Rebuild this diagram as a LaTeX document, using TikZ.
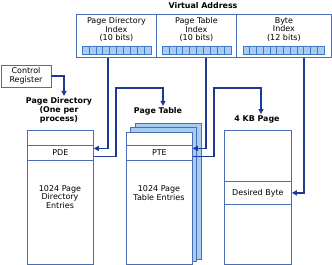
\documentclass[tikz,border=0pt]{standalone}
\usepackage{fontspec}
\setmainfont{DejaVu Sans}
\usetikzlibrary{arrows.meta, positioning, calc}
\definecolor{boxblue}{HTML}{4A6DB8}
\definecolor{arrblue}{HTML}{1C3A94}
\definecolor{cellfill}{HTML}{A9CDF2}
\definecolor{cellline}{HTML}{3F78C8}
\definecolor{sheetfill}{HTML}{A6CCF2}

\begin{document}
\begin{tikzpicture}[x=1pt,y=-1pt,
  fld/.style={rectangle,draw=boxblue,line width=0.8pt,minimum height=43pt,inner sep=0pt,anchor=north west},
  tbl/.style={rectangle,draw=boxblue,line width=0.8pt,fill=white,inner sep=0pt,anchor=north west,align=center,font=\fontsize{8}{8.8}\selectfont},
  txt/.style={align=center,inner sep=1pt,font=\fontsize{8}{8.8}\selectfont},
  ttl/.style={align=center,inner sep=1pt,font=\bfseries\fontsize{7.9}{9}\selectfont},
  cell/.style={draw=cellline,fill=cellfill,line width=0.6pt},
  sheet/.style={draw=boxblue,fill=sheetfill,line width=0.8pt},
  arr/.style={-{Triangle[length=5pt,width=5pt]},line width=1.2pt,draw=arrblue}
]
  \useasboundingbox (0,0) rectangle (332,265);

  % virtual address
  \node[ttl] (vat) at (203,6) {Virtual Address};
  \node[fld, minimum width=80pt] (pdi) at (76,14) {};
  \node[fld, minimum width=80pt] (pti) at (156,14) {};
  \node[fld, minimum width=95pt] (bi) at (236,14) {};
  \node[txt, below=2pt of pdi.north] {Page Directory\\Index\\(10 bits)};
  \node[txt, below=2pt of pti.north] {Page Table\\Index\\(10 bits)};
  \node[txt, below=2pt of bi.north] {Byte\\Index\\(12 bits)};
  \foreach \x/\n/\w in {82/10/6.9, 162/10/6.9, 243/12/6.75}{\foreach \i in {1,...,\n}{\draw[cell] ({\x+(\i-1)*\w},46) rectangle ++(\w,8);}}

  % control register
  \node[tbl, anchor=center, minimum width=50pt, minimum height=22pt] (ctrl) at (26,76) {Control\\Register};

  % page directory
  \node[ttl] (pdt) at (59,110) {Page Directory\\(One per\\process)};
  \node[tbl, minimum width=66pt, minimum height=134pt] (pdir) at (27,130) {};
  \node[tbl, minimum width=66pt, minimum height=15pt] (pde) at (27,145) {PDE};
  \node[txt] at (60,197) {1024 Page\\Directory\\Entries};

  % page table
  \node[ttl] (ptt) at (158,111) {Page Table};
  \foreach \k in {2,1}{\draw[sheet] ({126+4.5*\k},{132-4.5*\k}) rectangle ({192+4.5*\k},{264-2.5*\k});}
  \node[tbl, minimum width=66pt, minimum height=132pt] (ptab) at (126,132) {};
  \node[tbl, minimum width=66pt, minimum height=15pt] (pte) at (126,145) {PTE};
  \node[txt] at (159,193) {1024 Page\\Table Entries};

  % 4 KB page
  \node[ttl] (kbt) at (257,119) {4 KB Page};
  \node[tbl, minimum width=67pt, minimum height=134pt] (page) at (224,130) {};
  \node[tbl, minimum width=67pt, minimum height=23pt] (dbyte) at (224,181) {Desired Byte};

  % connectors
  \coordinate (bendpd) at (116,88);
  \coordinate (bendpt) at (214,88);
  \draw[arr] (ctrl.east) -| ([xshift=5pt]pdt.north);
  \draw[arr] ($(pdi.south west)+(32,0)$) |- ([yshift=4.5pt]pde.east);
  \draw[arr] ([yshift=-3.5pt]pde.east) -| (bendpd) -| ([xshift=5pt]ptt.north);
  \draw[arr] ($(pti.south west)+(50,0)$) |- ([yshift=4.5pt]pte.east);
  \draw[arr] ([yshift=-3.5pt]pte.east) -| (bendpt) -| ([xshift=4pt]kbt.north);
  \draw[arr] ($(bi.south west)+(68,0)$) |- (dbyte.east);
\end{tikzpicture}
\end{document}
